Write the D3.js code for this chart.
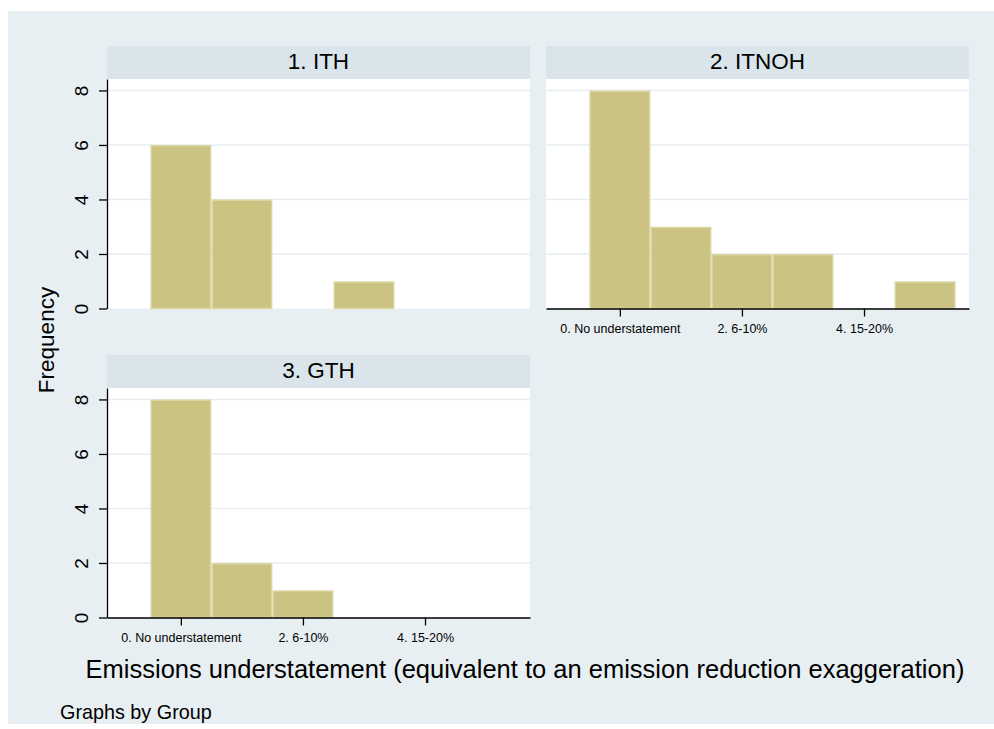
<!DOCTYPE html>
<html>
<head>
<meta charset="utf-8">
<script src="https://cdn.jsdelivr.net/npm/d3@7"></script>
<style>
  html, body { margin: 0; padding: 0; background: #ffffff; }
  svg { display: block; font-family: "Liberation Sans", Arial, sans-serif; }
</style>
</head>
<body>
<svg id="chart" width="994" height="729"></svg>
<script>
// Histogram of emissions understatement, one panel per group
const groups = ["1. ITH", "2. ITNOH", "3. GTH"];
const levels = [0, 1, 2, 3, 4, 5];
const ithCounts = [6, 4, 0, 1, 0, 0];
const itnohCounts = [8, 3, 2, 2, 0, 1];
const gthCounts = [8, 2, 1, 0, 0, 0];
const yTickValues = [0, 2, 4, 6, 8];
const xTickValues = [0, 2, 4];
const xTickLabels = ["0. No understatement", "2. 6-10%", "4. 15-20%"];

const countsByGroup = [ithCounts, itnohCounts, gthCounts];

const W = 994, H = 729;
const svg = d3.select("#chart");

const colors = {
  outer: "#e8eff2",
  strip: "#d9e5eb",
  plot: "#ffffff",
  grid: "#e6eef1",
  bar: "#cbc382",
  barEdge: "#dcd6a2",
  ink: "#000000"
};

// outer graph region
svg.append("rect").attr("x", 8).attr("y", 11).attr("width", W - 8).attr("height", 713)
  .attr("fill", colors.outer);

// panel grid: 2 columns, 2 rows
const colX = [107, 546];
const rowY = [46, 355];
const panelW = 423;
const stripH = 33;
const plotH = 229.5;

const panels = [
  { group: 0, col: 0, row: 0, yAxis: true, xAxis: false },
  { group: 1, col: 1, row: 0, yAxis: false, xAxis: true },
  { group: 2, col: 0, row: 1, yAxis: true, xAxis: true }
];

panels.forEach(p => {
  const x0 = colX[p.col];
  const top = rowY[p.row];
  const plotTop = top + stripH;
  const plotBottom = plotTop + plotH;

  const x = d3.scaleLinear().domain([-1.21, 5.72]).range([x0, x0 + panelW]);
  const y = d3.scaleLinear().domain([0, 8.42]).range([plotBottom, plotTop]);

  const g = svg.append("g");

  // strip with group label
  g.append("rect").attr("x", x0).attr("y", top).attr("width", panelW).attr("height", stripH)
    .attr("fill", colors.strip);
  g.append("text").attr("x", x0 + panelW / 2).attr("y", top + 23)
    .attr("text-anchor", "middle").attr("font-size", 22.5).attr("fill", colors.ink)
    .text(groups[p.group]);

  // plot region
  g.append("rect").attr("x", x0).attr("y", plotTop).attr("width", panelW).attr("height", plotH)
    .attr("fill", colors.plot);

  // horizontal gridlines
  g.selectAll("line.grid").data(yTickValues.filter(v => v > 0)).join("line")
    .attr("class", "grid")
    .attr("x1", x0).attr("x2", x0 + panelW)
    .attr("y1", d => y(d)).attr("y2", d => y(d))
    .attr("stroke", colors.grid).attr("stroke-width", 1.6);

  // bars: one per level, spanning half a unit either side
  const data = levels.map((lv, i) => ({ lv, n: countsByGroup[p.group][i] })).filter(d => d.n > 0);
  g.selectAll("rect.bar").data(data).join("rect")
    .attr("class", "bar")
    .attr("x", d => x(d.lv - 0.5) + 0.75)
    .attr("width", d => x(d.lv + 0.5) - x(d.lv - 0.5) - 1.5)
    .attr("y", d => y(d.n) + 0.75)
    .attr("height", d => y(0) - y(d.n) - 0.75)
    .attr("fill", colors.bar)
    .attr("stroke", colors.barEdge).attr("stroke-width", 1.5);

  if (p.yAxis) {
    const ay = g.append("g").attr("transform", `translate(${x0},0)`)
      .call(d3.axisLeft(y).tickValues(yTickValues).tickSize(8).tickSizeOuter(0).tickFormat(d3.format("d")));
    ay.select(".domain").attr("stroke", colors.ink).attr("stroke-width", 1.3);
    ay.selectAll(".tick line").attr("stroke", colors.ink).attr("stroke-width", 1.3);
    ay.selectAll(".tick text")
      .attr("transform", "rotate(-90)")
      .attr("x", 0).attr("y", -19).attr("dy", null)
      .attr("text-anchor", "middle")
      .attr("font-size", 19).attr("font-family", "Liberation Sans, Arial, sans-serif")
      .attr("fill", colors.ink);
  }

  if (p.xAxis) {
    const ax = g.append("g").attr("transform", `translate(0,${plotBottom})`)
      .call(d3.axisBottom(x).tickValues(xTickValues).tickSize(8).tickSizeOuter(0)
        .tickFormat((d, i) => xTickLabels[i]));
    ax.select(".domain").attr("stroke", colors.ink).attr("stroke-width", 1.3);
    ax.selectAll(".tick line").attr("stroke", colors.ink).attr("stroke-width", 1.3);
    ax.selectAll(".tick text")
      .attr("y", 16).attr("dy", "0.71em")
      .attr("font-size", 12.5).attr("font-family", "Liberation Sans, Arial, sans-serif")
      .attr("fill", colors.ink);
  }
});

// axis titles and note
svg.append("text")
  .attr("transform", "translate(54,340) rotate(-90)")
  .attr("text-anchor", "middle").attr("font-size", 22.5).attr("fill", colors.ink)
  .text("Frequency");

svg.append("text")
  .attr("x", 525).attr("y", 678)
  .attr("text-anchor", "middle").attr("font-size", 25.5).attr("fill", colors.ink)
  .text("Emissions understatement (equivalent to an emission reduction exaggeration)");

svg.append("text")
  .attr("x", 60).attr("y", 719)
  .attr("font-size", 19.8).attr("fill", colors.ink)
  .text("Graphs by Group");
</script>
</body>
</html>
